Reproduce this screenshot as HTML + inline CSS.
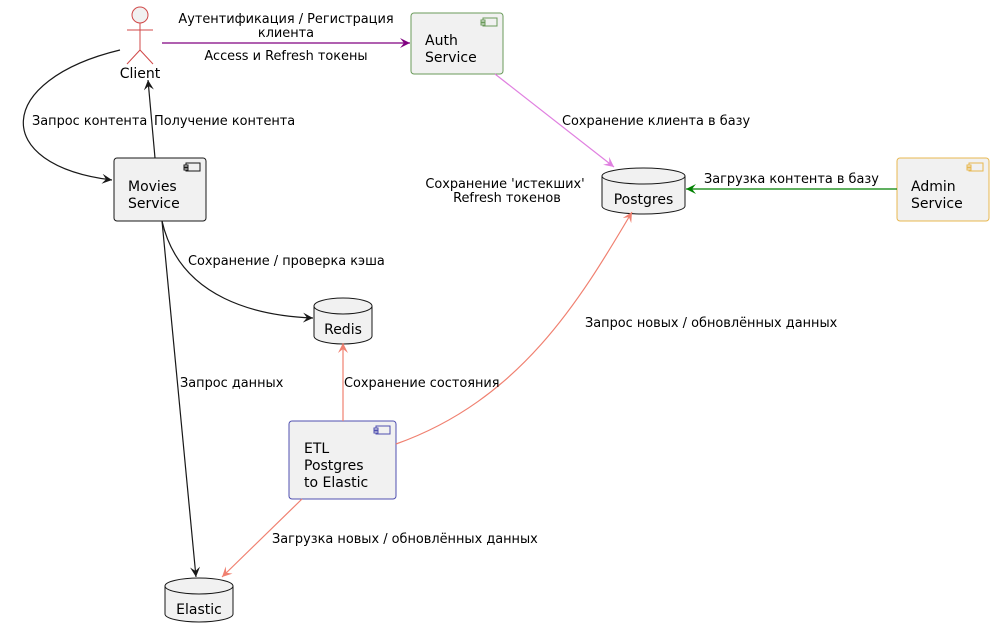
<!DOCTYPE html>
<html><head><meta charset="utf-8"><style>
body{margin:0;background:#fff}
text{font-family:"DejaVu Sans","Liberation Sans",sans-serif;font-size:12.9px;fill:#000}
.n{font-size:14px}
</style></head><body>
<svg width="994" height="637" viewBox="0 0 994 637" xmlns="http://www.w3.org/2000/svg">
<defs>
<marker id="ak" markerWidth="12" markerHeight="10" refX="10" refY="5" orient="auto" markerUnits="userSpaceOnUse"><path d="M0,0 L10,5 L0,10 L4,5 Z" fill="#181818"/></marker>
<marker id="ap" markerWidth="12" markerHeight="10" refX="10" refY="5" orient="auto" markerUnits="userSpaceOnUse"><path d="M0,0 L10,5 L0,10 L4,5 Z" fill="#800080"/></marker>
<marker id="av" markerWidth="12" markerHeight="10" refX="10" refY="5" orient="auto" markerUnits="userSpaceOnUse"><path d="M0,0 L10,5 L0,10 L4,5 Z" fill="#e080e0"/></marker>
<marker id="ag" markerWidth="12" markerHeight="10" refX="10" refY="5" orient="auto" markerUnits="userSpaceOnUse"><path d="M0,0 L10,5 L0,10 L4,5 Z" fill="#008000"/></marker>
<marker id="as" markerWidth="12" markerHeight="10" refX="10" refY="5" orient="auto" markerUnits="userSpaceOnUse"><path d="M0,0 L10,5 L0,10 L4,5 Z" fill="#f08070"/></marker>
</defs>

<g stroke="#d04848" fill="none" stroke-width="1">
<circle cx="140" cy="15" r="8" fill="#f1f1f1"/>
<line x1="140" y1="23" x2="140" y2="50"/>
<line x1="127" y1="30" x2="153" y2="30"/>
<line x1="140" y1="50" x2="127" y2="64"/>
<line x1="140" y1="50" x2="153" y2="64"/>
</g>
<text x="140" y="78" text-anchor="middle" class="n">Client</text>

<g stroke-width="1">
<rect x="411" y="13" width="92" height="61" rx="3" fill="#f1f1f1" stroke="#6a9a5a"/>
<rect x="114" y="158" width="92" height="63" rx="3" fill="#f1f1f1" stroke="#181818"/>
<rect x="897" y="158" width="92" height="63" rx="3" fill="#f1f1f1" stroke="#e8b850"/>
<rect x="289" y="421" width="107" height="78" rx="3" fill="#f1f1f1" stroke="#5050b0"/>
</g>
<g fill="#f1f1f1" stroke-width="1">
<rect x="483" y="18" width="14" height="8" stroke="#6a9a5a"/><rect x="481" y="20" width="4" height="2" stroke="#6a9a5a"/><rect x="481" y="23" width="4" height="2" stroke="#6a9a5a"/>
<rect x="186" y="163" width="14" height="8" stroke="#181818"/><rect x="184" y="165" width="4" height="2" stroke="#181818"/><rect x="184" y="168" width="4" height="2" stroke="#181818"/>
<rect x="969" y="163" width="14" height="8" stroke="#e8b850"/><rect x="967" y="165" width="4" height="2" stroke="#e8b850"/><rect x="967" y="168" width="4" height="2" stroke="#e8b850"/>
<rect x="376" y="426" width="14" height="8" stroke="#5050b0"/><rect x="374" y="428" width="4" height="2" stroke="#5050b0"/><rect x="374" y="431" width="4" height="2" stroke="#5050b0"/>
</g>
<text x="425" y="45" class="n">Auth</text><text x="425" y="62" class="n">Service</text>
<text x="128" y="191" class="n">Movies</text><text x="128" y="208" class="n">Service</text>
<text x="911" y="191" class="n">Admin</text><text x="911" y="208" class="n">Service</text>
<text x="304" y="453" class="n">ETL</text><text x="304" y="470" class="n">Postgres</text><text x="304" y="487" class="n">to Elastic</text>

<g fill="#f1f1f1" stroke="#181818" stroke-width="1">
<path d="M602,176 v30 a41.5,8 0 0 0 83,0 v-30"/><ellipse cx="643.5" cy="176" rx="41.5" ry="8"/>
<path d="M314,306 v30 a29,8 0 0 0 58,0 v-30"/><ellipse cx="343" cy="306" rx="29" ry="8"/>
<path d="M165,586 v28 a34,8 0 0 0 68,0 v-28"/><ellipse cx="199" cy="586" rx="34" ry="8"/>
</g>
<text x="643.5" y="204" text-anchor="middle" class="n">Postgres</text>
<text x="343" y="334" text-anchor="middle" class="n">Redis</text>
<text x="199" y="614" text-anchor="middle" class="n">Elastic</text>

<g fill="none" stroke-width="1.2">
<line x1="162" y1="43" x2="410" y2="43" stroke="#800080" marker-end="url(#ap)"/>
<path d="M120,50 C -5,80 -10,165 112,180" stroke="#181818" marker-end="url(#ak)"/>
<line x1="155" y1="158" x2="148" y2="80" stroke="#181818" marker-end="url(#ak)"/>
<line x1="495" y1="74" x2="614" y2="167" stroke="#e080e0" marker-end="url(#av)"/>
<line x1="897" y1="189" x2="686" y2="189" stroke="#008000" marker-end="url(#ag)"/>
<path d="M396,444 C 520,400 580,300 632,212" stroke="#f08070" marker-end="url(#as)"/>
<line x1="343" y1="421" x2="343" y2="343" stroke="#f08070" marker-end="url(#as)"/>
<path d="M162,221 C 180,300 260,316 313,318" stroke="#181818" marker-end="url(#ak)"/>
<line x1="162" y1="221" x2="196" y2="577" stroke="#181818" marker-end="url(#ak)"/>
<line x1="302" y1="499" x2="222" y2="577" stroke="#f08070" marker-end="url(#as)"/>
</g>

<text x="286" y="23" text-anchor="middle">Аутентификация / Регистрация</text>
<text x="286" y="37" text-anchor="middle">клиента</text>
<text x="286" y="60" text-anchor="middle">Access и Refresh токены</text>
<text x="32" y="125">Запрос контента</text>
<text x="154" y="125">Получение контента</text>
<text x="562" y="125">Сохранение клиента в базу</text>
<text x="505" y="188" text-anchor="middle">Сохранение 'истекших'</text>
<text x="507" y="202" text-anchor="middle">Refresh токенов</text>
<text x="704" y="183">Загрузка контента в базу</text>
<text x="188" y="265">Сохранение / проверка кэша</text>
<text x="585" y="327">Запрос новых / обновлённых данных</text>
<text x="180" y="387">Запрос данных</text>
<text x="344" y="387">Сохранение состояния</text>
<text x="272" y="543">Загрузка новых / обновлённых данных</text>
</svg>
</body></html>
